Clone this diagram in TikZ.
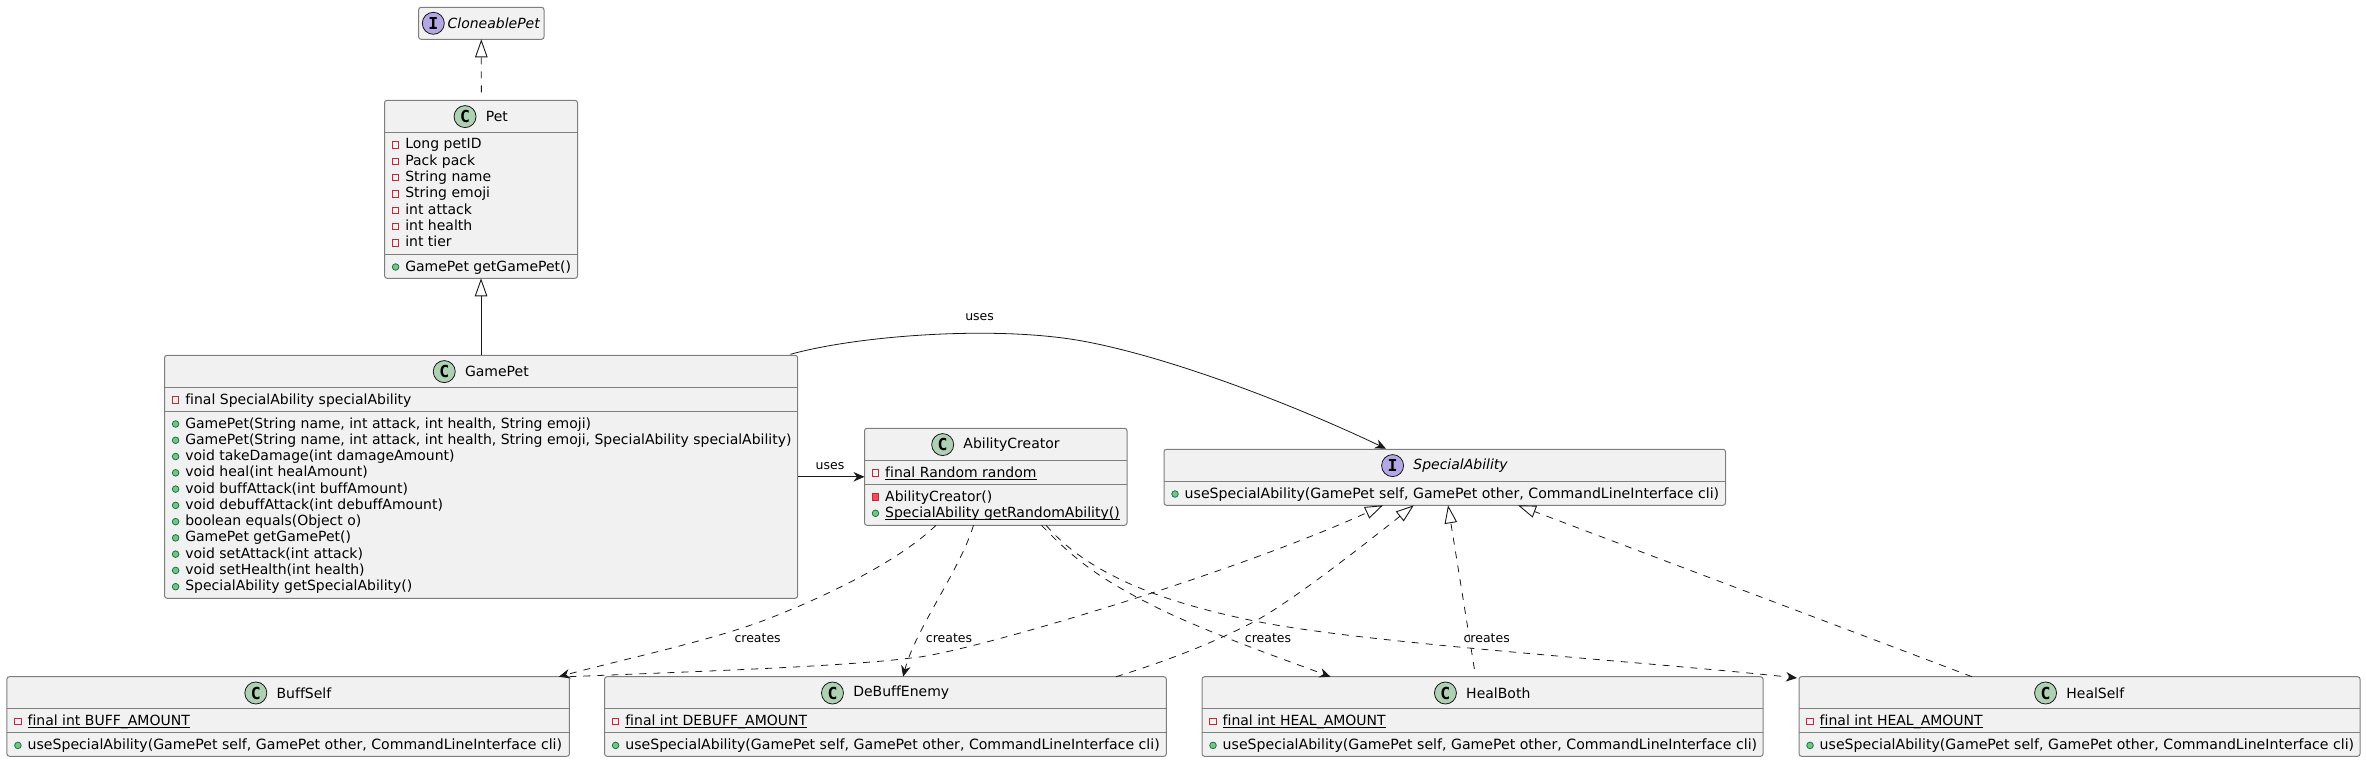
\documentclass[tikz,border=0pt]{standalone}
\usepackage{fontspec}
\setmainfont[Ligatures=NoCommon]{DejaVu Sans}
\newfontfamily\iconfont{DejaVu Sans Mono}
\usetikzlibrary{arrows.meta,calc,positioning}
\definecolor{boxf}{HTML}{F1F1F1}
\definecolor{boxl}{HTML}{7E7E7E}
\definecolor{linek}{HTML}{181818}
\definecolor{clsf}{HTML}{ADD1B2}
\definecolor{intf}{HTML}{B4A7E5}
\definecolor{pubf}{HTML}{84BE84}
\definecolor{publ}{HTML}{038048}
\definecolor{prif}{HTML}{F24D5C}
\definecolor{pril}{HTML}{C82930}
\tikzset{
    classbox/.style={draw=boxl,fill=boxf,line width=1pt,rounded corners=2.5pt,anchor=north west,inner sep=0pt,outer sep=0pt},
    sepline/.style={draw=boxl,line width=1pt},
    iconC/.style={circle,draw=linek,fill=clsf,line width=.8pt,minimum size=22pt,inner sep=0pt,font=\iconfont\bfseries\fontsize{16.5}{16.5}\selectfont},
    iconI/.style={iconC,fill=intf},
    titleC/.style={inner sep=0pt,font=\fontsize{14}{16}\selectfont},
    titleI/.style={titleC,font=\fontsize{14}{16}\selectfont\itshape},
    rowtxt/.style={anchor=base west,inner sep=0pt,font=\fontsize{14}{16}\selectfont},
    pubdot/.style={circle,draw=publ,fill=pubf,line width=.8pt,minimum size=6.6pt,inner sep=0pt},
    prifld/.style={rectangle,draw=pril,line width=.9pt,minimum size=6.4pt,inner sep=0pt},
    primth/.style={prifld,fill=prif},
    edgelbl/.style={inner sep=0pt,font=\fontsize{12.5}{14}\selectfont},
    solidln/.style={linek,line width=.8pt},
    dashln/.style={solidln,dash pattern=on 7pt off 7pt},
    isa/.style={-{Triangle[open,length=18pt,width=12.5pt,line width=.9pt]}},
    opena/.style={-{Stealth[length=11pt,width=9.5pt,inset=3.5pt]}}
}
% box with title and icon
\newcommand{\classnode}[7]{
    \node [classbox,minimum width=#4pt,minimum height=#5pt] (#1) at (#2,#3) {};
    \node [title#6] (#1-t) at ($(#1.north)+(15.8,16.3)$) {#7};
    \node [icon#6,left=9.2pt of #1-t] (#1-i) {#6};
}
\newcommand{\sepat}[2]{
    \draw [sepline] ($(#1.north west)+(0,#2)$) -- ($(#1.north east)+(0,#2)$);
}
\newcommand{\member}[5]{
    \node [#4] (#1-i#2) at ($(#1.north west)+(11,#3-4)$) {};
    \node [rowtxt] (#1-m#2) at ($(#1.north west)+(20.5,#3)$) {#5};
}
% static members, the rule runs through the underscore
\newcommand{\stat}[1]{\setbox0\hbox{#1}\rlap{\rule[-2.6pt]{\wd0}{1.1pt}}\box0}
\newcommand{\usetxt}{{\fontsize{14.12}{16}\selectfont useSpecialAbility(GamePet self, GamePet other, CommandLineInterface cli)}}
\begin{document}
\begin{tikzpicture}[x=1pt,y=-1pt]
    \useasboundingbox (0,0) rectangle (2366,762);
    % CloneablePet
    \node [classbox,minimum width=125.4pt,minimum height=32pt] (clone) at (418.6,7.3) {};
    \node [iconI] (clone-i) at ($(clone.north west)+(14.7,16)$) {I};
    \node [titleI,right=2.7pt of clone-i] (clone-t) {CloneablePet};
    % Pet
    \classnode{pet}{384.6}{100.3}{192.9}{178}{C}{Pet}
    \sepat{pet}{32}
    \sepat{pet}{154}
    \foreach \i/\txt in {0/Long petID,1/Pack pack,2/String name,3/String emoji,4/int attack,5/int health,6/int tier} {
        \member{pet}{\i}{48.7+16.3*\i}{prifld}{\txt}
    }
    \member{pet}{7}{170.7}{pubdot}{GamePet getGamePet()}
    % GamePet
    \classnode{gamepet}{164.6}{355.3}{633}{243}{C}{GamePet}
    \sepat{gamepet}{32}
    \sepat{gamepet}{56}
    \member{gamepet}{f}{48.7}{prifld}{final SpecialAbility specialAbility}
    \foreach \i/\txt in {
        0/{GamePet(String name, int attack, int health, String emoji)},
        1/{GamePet(String name, int attack, int health, String emoji, SpecialAbility specialAbility)},
        2/{void takeDamage(int damageAmount)},
        3/{void heal(int healAmount)},
        4/{void buffAttack(int buffAmount)},
        5/{void debuffAttack(int debuffAmount)},
        6/{boolean equals(Object o)},
        7/{GamePet getGamePet()},
        8/{void setAttack(int attack)},
        9/{void setHealth(int health)},
        10/{SpecialAbility getSpecialAbility()}} {
        \member{gamepet}{\i}{72.7+16.27*\i}{pubdot}{\txt}
    }
    % AbilityCreator
    \classnode{abilcr}{864.5}{428.3}{262.5}{97}{C}{AbilityCreator}
    \sepat{abilcr}{32}
    \sepat{abilcr}{56}
    \member{abilcr}{f}{48.7}{prifld}{\stat{final Random random}}
    \member{abilcr}{0}{72.7}{primth}{AbilityCreator()}
    \member{abilcr}{1}{89}{pubdot}{\stat{SpecialAbility getRandomAbility()}}
    % SpecialAbility
    \classnode{special}{1164}{449.3}{561.5}{56}{I}{SpecialAbility}
    \sepat{special}{32}
    \member{special}{0}{48.7}{pubdot}{\usetxt}
    % bottom row
    \foreach \nm/\xx/\bw/\fld/\ttl in {buff/6.9/562.5/BUFF/BuffSelf,debuff/604.6/561.7/DEBUFF/DeBuffEnemy,healb/1202/561/HEAL/HealBoth,heals/1799/561/HEAL/HealSelf} {
        \classnode{\nm}{\xx}{676.7}{\bw}{79.6}{C}{\ttl}
        \sepat{\nm}{32}
        \sepat{\nm}{56}
        \member{\nm}{f}{48.7}{prifld}{\stat{final int \fld\_AMOUNT}}
        \member{\nm}{0}{72.7}{pubdot}{\usetxt}
    }
    % inheritance
    \draw [dashln,isa] ($(pet.north)+(0.3,-8)$) -- (clone.south);
    \draw [solidln,isa] (gamepet.north -| pet.south) -- (pet.south);
    % uses
    \draw [solidln,opena] ($(gamepet.north east)+(-7.2,-1)$)
        .. controls (860,335) and (1000,325) .. (1086,341.7)
        .. controls (1170,357.6) and (1290,403) .. ($(special.north west)+(222,-.6)$);
    \draw [solidln,opena] (gamepet.east) -- (gamepet.east -| abilcr.west);
    \node [edgelbl] (usesl1) at (979.6,317) {uses};
    \node [edgelbl] (usesl2) at (830,466) {uses};
    % creates
    \draw [dashln,opena] ($(abilcr.south west)+(71.5,0)$)
        .. controls (900,560) and (830,595) .. (765,620)
        .. controls (710,641) and (620,660) .. ($(buff.north east)+(-10.5,0)$);
    \draw [dashln,opena] ($(abilcr.south west)+(109,0)$)
        .. controls (960,570) and (915,630) .. ($(debuff.north west)+(298.5,0)$);
    \draw [dashln,opena] ($(abilcr.south west)+(177,0)$)
        .. controls (1075,560) and (1100,580) .. (1166,612)
        .. controls (1220,637) and (1280,658) .. ($(healb.north west)+(128.5,0)$);
    \draw [dashln,opena] ($(abilcr.south west)+(181.5,0)$)
        .. controls (1085,570) and (1150,600) .. (1258,621.7)
        .. controls (1370,644) and (1650,662) .. ($(heals.north west)+(-2,1.3)$);
    \node [edgelbl] (crl1) at (757.6,638) {creates};
    \node [edgelbl] (crl2) at (949,638) {creates};
    \node [edgelbl] (crl3) at (1268,638) {creates};
    \node [edgelbl] (crl4) at (1486.7,638) {creates};
    % realizations
    \draw [dashln,isa] (buff.north east)
        .. controls (680,672) and (840,667) .. (911,658)
        .. controls (960,655) and (1230,575) .. ($(special.south west)+(219,0)$);
    \draw [dashln,isa] ($(debuff.north west)+(511.4,0)$)
        .. controls (1170,660) and (1215,642) .. (1254,621.7)
        .. controls (1290,603) and (1370,540) .. ($(special.south west)+(249.8,0)$);
    \draw [dashln,isa] ($(healb.north west)+(272.4,-7.7)$) -- ($(special.south west)+(284,0)$);
    \draw [dashln,isa] ($(heals.north west)+(173,0)$) -- ($(special.south west)+(354,0)$);
\end{tikzpicture}
\end{document}
